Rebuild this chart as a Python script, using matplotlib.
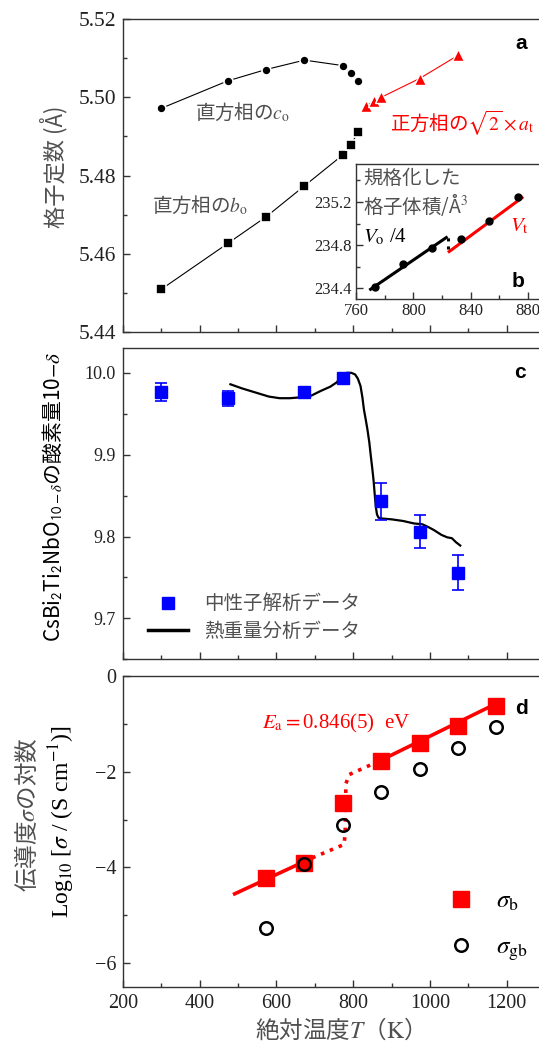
import matplotlib
matplotlib.use('Agg')
import matplotlib.pyplot as plt
import matplotlib.ticker as ticker
from matplotlib.lines import Line2D

plt.rcParams['font.family'] = ['Liberation Serif', 'Noto Sans CJK JP', 'DejaVu Sans']
plt.rcParams['mathtext.fontset'] = 'stix'

JP = ['Noto Sans CJK JP', 'DejaVu Sans']
GRAY = '#505050'
SPINE = '#333333'
RED = '#ff0000'
BLUE = '#0000ff'

# --- panel a: lattice constants
T_ortho = [300, 473, 573, 673, 773, 793, 813]
c_o = [5.4972, 5.5042, 5.5071, 5.5095, 5.5081, 5.5063, 5.5042]
b_o = [5.4510, 5.4627, 5.4695, 5.4774, 5.4853, 5.4878, 5.4911]
T_tetra = [833, 853, 873, 973, 1073]
a_t = [5.4977, 5.4990, 5.5000, 5.5048, 5.5107]

# --- panel b (inset): normalised cell volume
T_vol = [773, 793, 813, 833, 853, 873]
vol = [234.41, 234.62, 234.77, 234.86, 235.02, 235.25]
fit_o_T = [770, 823]
fit_o_V = [234.39, 234.87]
fit_t_T = [825, 876]
fit_t_V = [234.74, 235.24]
gap_T = [824, 824]
gap_V = [234.76, 234.88]

# --- panel c: oxygen content
T_neu = [300, 473, 673, 773, 873, 973, 1073]
O_neu = [9.977, 9.969, 9.977, 9.994, 9.843, 9.806, 9.756]
O_err = [0.011, 0.009, 0.004, 0.004, 0.023, 0.020, 0.021]
T_tga = [480, 510, 545, 580, 608, 635, 662, 690, 716, 740, 756, 770, 783, 795,
         805, 812, 819, 824, 828, 833, 837, 842, 846, 850, 853, 856, 859, 862,
         866, 875, 900, 930, 958, 980, 994, 1010, 1030, 1045, 1057, 1068, 1079]
O_tga = [9.986, 9.981, 9.976, 9.971, 9.969, 9.969, 9.970, 9.972, 9.978, 9.983,
         9.988, 9.995, 10.000, 10.000, 9.998, 9.993, 9.984, 9.970, 9.955, 9.942,
         9.931, 9.915, 9.898, 9.882, 9.869, 9.852, 9.836, 9.827, 9.823, 9.822,
         9.821, 9.819, 9.816, 9.815, 9.812, 9.808, 9.802, 9.799, 9.798, 9.793, 9.789]

# --- panel d: conductivity
T_sig = [573, 673, 773, 873, 973, 1073, 1173]
log_sb = [-4.21, -3.91, -2.65, -1.78, -1.41, -1.05, -0.63]
log_sgb = [-5.27, -3.93, -3.11, -2.42, -1.94, -1.51, -1.06]
fit_lo_T = [491, 693]
fit_lo_s = [-4.55, -3.80]
fit_mid_T = [693, 776, 779, 781, 790, 873]
fit_mid_s = [-3.80, -3.52, -3.30, -2.25, -2.06, -1.76]
fit_hi_T = [873, 1178]
fit_hi_s = [-1.76, -0.56]


def style(ax, fs):
    for s in ax.spines.values():
        s.set_color(SPINE)
        s.set_linewidth(1.0)
    ax.tick_params(which='both', direction='in', colors=SPINE, labelcolor='#222222',
                   labelsize=fs, top=False, right=False, pad=5)
    ax.tick_params(which='major', length=5, width=1)
    ax.tick_params(which='minor', length=3, width=1)


fig = plt.figure(figsize=(5.39, 10.49), dpi=100)
L, W = 0.2282, 0.783

# ---------------- panel a
ax1 = fig.add_axes([L, 0.6832, W, 0.2987])
ax1.plot(T_ortho, c_o, '-o', color='black', lw=0.8, ms=6.5, mec='white', mew=1.2)
ax1.plot(T_ortho, b_o, '-s', color='black', lw=0.8, ms=7.5, mec='white', mew=1.2)
ax1.plot(T_tetra, a_t, '-^', color=RED, lw=0.8, ms=9, mec='white', mew=1.0)
ax1.set_xlim(200, 1300)
ax1.set_ylim(5.44, 5.52)
ax1.xaxis.set_major_locator(ticker.MultipleLocator(200))
ax1.xaxis.set_minor_locator(ticker.MultipleLocator(100))
ax1.yaxis.set_major_locator(ticker.MultipleLocator(0.02))
ax1.yaxis.set_minor_locator(ticker.MultipleLocator(0.01))
ax1.yaxis.set_major_formatter(ticker.FormatStrFormatter('%.2f'))
style(ax1, 15.5)
ax1.tick_params(labelbottom=False)
ax1.text(-0.165, 0.528, '格子定数 (Å)', transform=ax1.transAxes, rotation=90,
         ha='center', va='center', fontsize=16, color=GRAY, family=JP)
ax1.text(0.171, 0.700, '直方相の$c_\\mathrm{o}$', transform=ax1.transAxes,
         ha='left', va='center', fontsize=14, color=GRAY, family=JP)
ax1.text(0.069, 0.406, '直方相の$b_\\mathrm{o}$', transform=ax1.transAxes,
         ha='left', va='center', fontsize=14, color=GRAY, family=JP)
ax1.text(0.633, 0.668, '正方相の$\\sqrt{2}\\times a_\\mathrm{t}$', transform=ax1.transAxes,
         ha='left', va='center', fontsize=14, color=RED, family=JP)
ax1.text(0.943, 0.923, 'a', transform=ax1.transAxes, ha='center', va='center',
         fontsize=15, fontweight='bold', family='Liberation Sans')

# ---------------- inset b
axb = fig.add_axes([0.661, 0.7150, 0.350, 0.1284])
axb.plot(fit_o_T, fit_o_V, color='black', lw=2.2)
axb.plot(fit_t_T, fit_t_V, color=RED, lw=2.2)
axb.plot(gap_T, gap_V, color='black', lw=2.2, ls=':')
axb.plot(T_vol, vol, 'o', color='black', ms=5)
axb.set_xlim(760, 892)
axb.set_ylim(234.3, 235.55)
axb.xaxis.set_major_locator(ticker.MultipleLocator(40))
axb.xaxis.set_minor_locator(ticker.MultipleLocator(20))
axb.yaxis.set_major_locator(ticker.MultipleLocator(0.4))
axb.yaxis.set_minor_locator(ticker.MultipleLocator(0.2))
axb.yaxis.set_major_formatter(ticker.FormatStrFormatter('%.1f'))
style(axb, 12)
axb.tick_params(pad=3)
axb.text(0.035, 0.97, '規格化した\n格子体積/Å$^3$', transform=axb.transAxes,
         ha='left', va='top', fontsize=14, color=GRAY, family=JP, linespacing=1.15)
axb.text(0.035, 0.46, '$V_\\mathrm{o}$ /4', transform=axb.transAxes,
         ha='left', va='center', fontsize=15, color='black')
axb.text(0.815, 0.535, '$V_\\mathrm{t}$', transform=axb.transAxes,
         ha='left', va='center', fontsize=15, color=RED)
axb.text(0.857, 0.126, 'b', transform=axb.transAxes, ha='center', va='center',
         fontsize=15, fontweight='bold', family='Liberation Sans')

# ---------------- panel c
ax2 = fig.add_axes([L, 0.3715, W, 0.2965])
ax2.plot(T_tga, O_tga, color='black', lw=1.6)
ax2.errorbar(T_neu, O_neu, yerr=O_err, fmt='s', color=BLUE, ms=8, capsize=4,
             elinewidth=1.2, capthick=1.2)
ax2.set_xlim(200, 1300)
ax2.set_ylim(9.65, 10.03)
ax2.xaxis.set_major_locator(ticker.MultipleLocator(200))
ax2.xaxis.set_minor_locator(ticker.MultipleLocator(100))
ax2.yaxis.set_major_locator(ticker.MultipleLocator(0.1))
ax2.yaxis.set_minor_locator(ticker.MultipleLocator(0.05))
ax2.yaxis.set_major_formatter(ticker.FormatStrFormatter('%.1f'))
style(ax2, 13)
ax2.tick_params(labelbottom=False)
ax2.text(-0.165, 0.523,
         'CsBi$_\\mathsf{2}$Ti$_\\mathsf{2}$NbO$_{\\mathsf{10}-\\delta}$の酸素量10$-\\delta$',
         transform=ax2.transAxes, rotation=90, ha='center', va='center',
         fontsize=15, color='black', family=JP)
h_neu = Line2D([], [], ls='none', marker='s', color=BLUE, ms=8)
h_tga = Line2D([], [], color='black', lw=2.5)
ax2.legend([h_neu, h_tga], ['中性子解析データ', '熱重量分析データ'], loc='lower left',
           bbox_to_anchor=(0.04, 0.03), frameon=False, handlelength=2.1,
           handletextpad=0.8, labelspacing=0.35, borderaxespad=0,
           prop={'family': JP, 'size': 14}, labelcolor=GRAY)
ax2.text(0.941, 0.921, 'c', transform=ax2.transAxes, ha='center', va='center',
         fontsize=15, fontweight='bold', family='Liberation Sans')

# ---------------- panel d
ax3 = fig.add_axes([L, 0.0588, W, 0.2970])
ax3.plot(fit_lo_T, fit_lo_s, color=RED, lw=2.6)
ax3.plot(fit_mid_T, fit_mid_s, color=RED, lw=2.6, ls=':')
ax3.plot(fit_hi_T, fit_hi_s, color=RED, lw=2.6)
ax3.plot(T_sig, log_sb, 's', color=RED, ms=12, label='$\\sigma_\\mathrm{b}$')
ax3.plot(T_sig, log_sgb, 'o', mfc='none', mec='black', mew=1.8, ms=9,
         label='$\\sigma_\\mathrm{gb}$')
ax3.set_xlim(200, 1300)
ax3.set_ylim(-6.5, 0)
ax3.xaxis.set_major_locator(ticker.MultipleLocator(200))
ax3.xaxis.set_minor_locator(ticker.MultipleLocator(100))
ax3.yaxis.set_major_locator(ticker.MultipleLocator(2))
ax3.yaxis.set_minor_locator(ticker.MultipleLocator(1))
style(ax3, 14.5)
ax3.legend(loc='center left', bbox_to_anchor=(0.742, 0.195), frameon=False,
           handlelength=1.2, handletextpad=0.8, labelspacing=0.95,
           borderaxespad=0, fontsize=18)
ax3.text(-0.228, 0.553, '伝導度$\\sigma$の対数', transform=ax3.transAxes, rotation=90,
         ha='center', va='center', fontsize=17, color=GRAY, family=JP)
ax3.text(-0.145, 0.532, 'Log$_{10}$ [$\\sigma$ / (S cm$^{-1}$)]', transform=ax3.transAxes,
         rotation=90, ha='center', va='center', fontsize=17, color='black')
ax3.text(0.329, 0.848, '$E_\\mathrm{a} = $0.846(5)  eV', transform=ax3.transAxes,
         ha='left', va='center', fontsize=15, color=RED)
ax3.text(0.945, 0.896, 'd', transform=ax3.transAxes, ha='center', va='center',
         fontsize=15, fontweight='bold', family='Liberation Sans')
ax3.set_xlabel('絶対温度$T$（$\\mathrm{K}$）', fontsize=17, color=GRAY, family=JP,
               labelpad=2)

fig.savefig('out.png', dpi=100)
